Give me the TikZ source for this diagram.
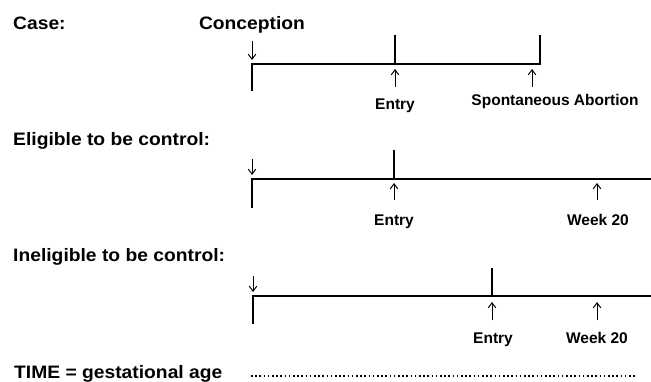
\documentclass[tikz,border=0pt]{standalone}
\usepackage{fontspec}
\setmainfont{Liberation Sans}
\newfontfamily\headfont[FakeStretch=1.07]{Liberation Sans}
\usetikzlibrary{arrows.meta}
\tikzset{
  head/.style={font=\headfont\fontsize{18}{20}\selectfont\bfseries, inner sep=0pt, anchor=base west},
  lbl/.style={font=\fontsize{15.5}{18}\selectfont\bfseries, inner sep=0pt, anchor=base},
  tline/.style={line width=2pt, line cap=rect},
  tick/.style={line width=1.8pt},
  marker/.style={line width=1pt, -{Straight Barb[length=5pt,width=7.5pt,line width=1pt]}},
}
\begin{document}
\begin{tikzpicture}[x=1pt,y=-1pt]
\useasboundingbox (0,0) rectangle (651,382);
% headers
\node[head] (case) at (13,30) {Case:};
\node[head, anchor=base] (conc) at (252,30) {Conception};
\node[head] (elig) at (13,146) {Eligible to be control:};
\node[head] (inel) at (13,262) {Ineligible to be control:};
\node[head] (time) at (14,378) {TIME = gestational age};
% ---------- row 1 ----------
\coordinate (a0) at (252,64);
\coordinate (a0b) at (252,90);
\coordinate (a1) at (395,64);
\coordinate (a1t) at (395,35);
\coordinate (a2) at (540,64);
\coordinate (a2t) at (540,35);
\coordinate (ad1) at (252,41);
\coordinate (ad2) at (252,60);
\draw[tline] (a0b) -- (a0) -- (a2);
\draw[tick] (a1t) -- (a1);
\draw[tick] (a2t) -- (a2);
\draw[marker] (ad1) -- (ad2);
\node[lbl] (aentry) at (395,110) {Entry};
\node[lbl] (aspont) at (555,106) {Spontaneous Abortion};
\coordinate (au1) at (395,87);
\coordinate (au1t) at (395,69);
\coordinate (au2) at (532,87);
\coordinate (au2t) at (532,69);
\draw[marker] (au1) -- (au1t);
\draw[marker] (au2) -- (au2t);
% ---------- row 2 ----------
\coordinate (b0) at (252,179);
\coordinate (b0b) at (252,207);
\coordinate (b1) at (394,179);
\coordinate (b1t) at (394,150);
\coordinate (bend) at (651,179);
\coordinate (bd1) at (252,159);
\coordinate (bd2) at (252,175);
\draw[tline] (b0b) -- (b0) -- (bend);
\draw[tick] (b1t) -- (b1);
\draw[marker] (bd1) -- (bd2);
\node[lbl] (bentry) at (394,226) {Entry};
\node[lbl] (bweek) at (598,226) {Week 20};
\coordinate (bu1) at (394,200);
\coordinate (bu1t) at (394,183);
\coordinate (bu2) at (597,200);
\coordinate (bu2t) at (597,183);
\draw[marker] (bu1) -- (bu1t);
\draw[marker] (bu2) -- (bu2t);
% ---------- row 3 ----------
\coordinate (c0) at (253,296);
\coordinate (c0b) at (253,323);
\coordinate (c1) at (492,296);
\coordinate (c1t) at (492,268);
\coordinate (cend) at (651,296);
\coordinate (cd1) at (253,276);
\coordinate (cd2) at (253,292);
\draw[tline] (c0b) -- (c0) -- (cend);
\draw[tick] (c1t) -- (c1);
\draw[marker] (cd1) -- (cd2);
\node[lbl] (centry) at (493,343) {Entry};
\node[lbl] (cweek) at (597,343) {Week 20};
\coordinate (cu1) at (492,320);
\coordinate (cu1t) at (492,302);
\coordinate (cu2) at (597,320);
\coordinate (cu2t) at (597,302);
\draw[marker] (cu1) -- (cu1t);
\draw[marker] (cu2) -- (cu2t);
% ---------- time dots ----------
\coordinate (t0) at (251,376);
\coordinate (t1) at (636,376);
\draw[line width=1.6pt, dash pattern=on 1.6pt off 2.6pt] (t0) -- (t1);
\end{tikzpicture}
\end{document}
